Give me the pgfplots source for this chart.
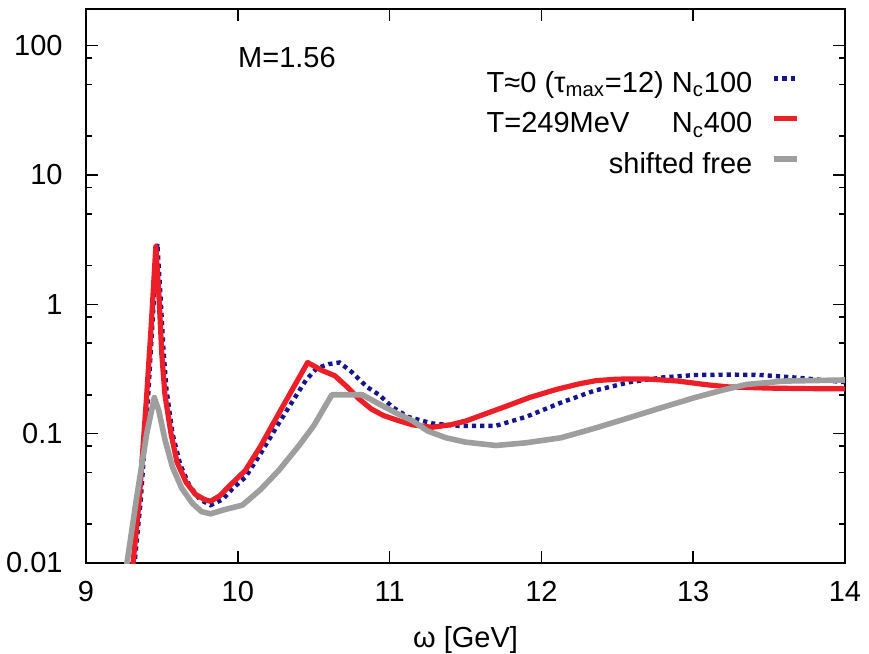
\documentclass[border=0pt]{standalone}
\usepackage{fontspec}
\setmainfont{Liberation Sans}
\usepackage{pgfplots}
\pgfplotsset{compat=1.18}

\definecolor{ncblue}{RGB}{22,22,140}
\definecolor{ncred}{RGB}{236,30,40}
\definecolor{freegray}{RGB}{158,158,158}

\begin{document}
\fontsize{14.5}{17}\selectfont
\begin{tikzpicture}
\useasboundingbox (-43pt,-45.5pt) rectangle (391.5pt,281.5pt);
\begin{axis}[
  at={(0,0)}, anchor=south west,
  scale only axis, width=379.5pt, height=277pt,
  xmin=9, xmax=14,
  ymode=log, ymin=0.01, ymax=192,
  axis line style={line width=0.9pt},
  every tick/.style={black, line width=0.8pt},
  tick align=inside,
  major tick length=6pt, minor tick length=3pt,
  xtick={9,10,11,12,13,14},
  xticklabels={9,10,11,12,13,14},
  ytick={0.01,0.1,1,10,100},
  yticklabels={0.01,0.1,1,10,100},
  minor ytick={0.02,0.05,0.08,0.2,0.5,0.8,2,5,8,20,50,80},
  xticklabel style={yshift=-4.2pt},
  yticklabel style={xshift=-6.7pt},
  xlabel={ω [GeV]},
  xlabel style={at={(axis description cs:0.5,0)}, anchor=base, yshift=-42pt},
  legend plot pos=right,
  legend cell align=right,
  legend image code/.code={\draw[#1] (0pt,3.5pt) -- (11.5pt,3.5pt);},
  legend style={
    at={(rel axis cs:0.9407,0.8875)}, anchor=north east,
    draw=none, fill=none, inner sep=0pt, outer sep=0pt,
    row sep=6.2pt,
    nodes={inner sep=0pt, text height=10.5pt, text depth=3.5pt},
    /tikz/every odd column/.append style={column sep=9.5pt},
  },
]

% T ~ 0 reference spectrum, N_c = 100
\addplot[color=ncblue, line width=2.2pt, dash pattern=on 2.1pt off 2pt] coordinates {
 (9.30,0.007) (9.32,0.01) (9.36,0.03) (9.41,0.2) (9.44,0.8) (9.47,2.95)
 (9.49,1.2) (9.51,0.45) (9.53,0.22) (9.57,0.1) (9.62,0.058) (9.68,0.040)
 (9.75,0.031) (9.82,0.028) (9.90,0.031) (9.97,0.038) (10.05,0.046)
 (10.15,0.07) (10.25,0.11) (10.35,0.17) (10.45,0.26) (10.52,0.32)
 (10.60,0.345) (10.67,0.355) (10.75,0.3) (10.85,0.23) (10.93,0.2)
 (11.02,0.16) (11.12,0.135) (11.28,0.12) (11.45,0.115) (11.7,0.115)
 (11.9,0.135) (12.13,0.174) (12.35,0.215) (12.58,0.25) (12.8,0.272)
 (13.01,0.284) (13.25,0.286) (13.45,0.284) (13.7,0.27) (14.0,0.25)
};
\addlegendentry{T≈0 (τ\textsubscript{max}=12) N\textsubscript{c}100}

% T = 249 MeV, N_c = 400
\addplot[color=ncred, line width=2.6pt, line join=round] coordinates {
 (9.29,0.006) (9.31,0.01) (9.35,0.03) (9.40,0.2) (9.43,0.7) (9.46,2.8)
 (9.48,1.2) (9.50,0.4) (9.52,0.2) (9.56,0.1) (9.60,0.06) (9.66,0.042)
 (9.72,0.034) (9.78,0.031) (9.82,0.030) (9.88,0.033) (9.95,0.040)
 (10.05,0.052) (10.15,0.08) (10.25,0.13) (10.35,0.21) (10.46,0.355)
 (10.55,0.31) (10.64,0.28) (10.72,0.23) (10.80,0.185) (10.88,0.155)
 (10.96,0.138) (11.06,0.126) (11.15,0.117) (11.28,0.112) (11.40,0.117)
 (11.50,0.125) (11.60,0.138) (11.75,0.16) (11.92,0.19) (12.1,0.22)
 (12.25,0.243) (12.36,0.257) (12.5,0.264) (12.69,0.265) (12.9,0.255)
 (13.1,0.238) (13.23,0.23) (13.5,0.225) (13.75,0.223) (14.0,0.222)
};
\addlegendentry{\rlap{T=249MeV}\hphantom{T≈0 (τ\textsubscript{max}=12) }N\textsubscript{c}400}

% shifted free spectral function
\addplot[color=freegray, line width=2.8pt, line join=round] coordinates {
 (9.25,0.006) (9.27,0.01) (9.33,0.03) (9.40,0.1) (9.45,0.19) (9.48,0.15)
 (9.52,0.09) (9.57,0.055) (9.63,0.038) (9.70,0.029) (9.76,0.025)
 (9.82,0.024) (9.92,0.026) (10.03,0.028) (10.15,0.037) (10.27,0.052)
 (10.40,0.08) (10.50,0.115) (10.62,0.2) (10.72,0.2) (10.82,0.2)
 (10.95,0.165) (11.05,0.143) (11.15,0.126) (11.25,0.105) (11.37,0.093)
 (11.5,0.086) (11.7,0.081) (11.9,0.085) (12.13,0.093) (12.35,0.11)
 (12.58,0.133) (12.8,0.16) (13.01,0.19) (13.2,0.218) (13.35,0.24)
 (13.6,0.255) (14.0,0.26)
};
\addlegendentry{shifted free}

\node[anchor=base west, inner sep=0pt] at (rel axis cs:0.2,0.895) {M=1.56};
\end{axis}
\end{tikzpicture}
\end{document}
